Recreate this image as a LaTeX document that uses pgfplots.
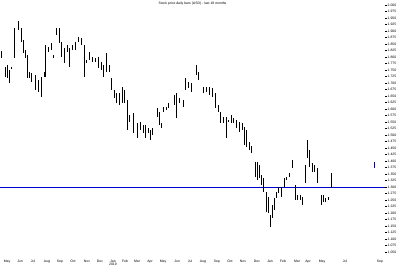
\documentclass[border=0pt]{standalone}
\usepackage{fontspec}
\setmainfont{Liberation Sans}
\usepackage{pgfplots}
\usepackage{pgfplotstable}
\pgfplotsset{compat=1.18}
\definecolor{lineblue}{RGB}{0,0,205}
\pgfplotstableread{
x lo hi
1 51 58
5 67 77
7 65 78
9 70 83
11 67 69
14 28 58
18 21 30
21 28 42
23 40 53
25.5 50 58
27 55 78
29 72 78
31.5 73 82
35 75 90
38 80 92
41 77 97
44 72 77
45.5 45 77
48 47 52
51.5 43 50
53 55 58
56 28 35
59 28 43
61.5 42 57
64 48 63
67 45 52
69 48 67
72.5 45 50
75 42 50
78 37 42
81 38 45
84 45 77
86 60 63
89 52 60
92 57 62
95 58 62
98 57 68
101 62 70
103 65 77
106.5 53 72
109 65 72
111 78 90
114 90 98
116 93 103
119 93 105
122 87 103
124.5 90 103
127 100 130
129 115 122
133 113 133
137 123 138
140 122 130
143 125 133
145 125 138
148 128 133
150 130 140
152 128 135
157 108 117
159 112 125
161 123 128
163 107 112
166 107 110
168 103 108
174 95 105
176 93 118
179 98 103
183 100 107
185 78 90
188 82 88
191 83 92
196 65 75
198 72 80
203 87 93
206 87 92
209 87 95
212 88 97
215 93 108
218 105 112
220 112 123
223 117 123
226 117 138
228 120 122
231 115 123
233 118 123
236 120 128
239 122 132
242 123 130
244 127 145
246 130 147
249 142 150
251 146 153
255 162 177
257 162 180
259 165 178
261 175 185
263 178 192
266 192 212
268 197 213
270 215 227
272 205 218
274 198 210
276 192 198
278 187 193
281 187 197
284 178 187
286 177 180
289 173 177
292 160 168
295 185 200
297 195 200
300 195 200
302 197 205
305 165 183
307 140 158
309 150 167
312 163 172
314 165 172
317 168 183
321 195 205
323 195 202
325 198 202
328 197 200
331 173 188
}\ohlc
\pgfplotstableread{
x lo hi
374 162 168
}\bluebar
\pgfplotstableread{
x y
0 187
385 187
}\hline
\begin{document}
\begin{tikzpicture}
\useasboundingbox (0,0) rectangle (400pt,266pt);
\begin{axis}[
  at={(0pt,8pt)}, anchor=south west,
  scale only axis, width=385pt, height=258pt,
  xmin=0, xmax=385, ymin=0, ymax=258, y dir=reverse,
  axis line style={draw=none},
  clip=false,
  font=\fontsize{3.4}{3.8}\selectfont,
  /pgf/number format/assume math mode=true,
  xtick={7,20,33,47,60,73,87,100,113,125,137,150,163,177,190,203,217,230,243,257,270,283,297,308,322,345,380},
  xticklabels={May,Jun,Jul,Aug,Sep,Oct,Nov,Dec,{Jan\\2019},Feb,Mar,Apr,May,Jun,Jul,Aug,Sep,Oct,Nov,Dec,Jan,Feb,Mar,Apr,May,Jul,Sep},
  xticklabel style={align=center, inner sep=0.5pt, yshift=0.5pt},
  xtick style={draw=none},
  ytick={5,11.5,...,262},
  yticklabel pos=right,
  yticklabel={\pgfmathparse{2-(\tick-5)/260}\pgfmathprintnumber[fixed,fixed zerofill,precision=3]{\pgfmathresult}},
  yticklabel style={inner sep=0.5pt, xshift=0.5pt},
  ytick style={black, line width=0.3pt},
  major tick length=1.5pt, tick align=outside,
]
\addplot[lineblue, line width=0.6pt, mark=none, forget plot] table[x=x, y=y] {\hline};
\addplot[draw=none, mark=none, forget plot,
  error bars/.cd, y dir=plus, y explicit,
  error bar style={black, line width=1pt}, error mark=none]
  table[x=x, y=lo, y error expr=\thisrow{hi}-\thisrow{lo}] {\ohlc};
\addplot[draw=none, mark=none, forget plot,
  error bars/.cd, y dir=plus, y explicit,
  error bar style={lineblue, line width=0.8pt}, error mark=none]
  table[x=x, y=lo, y error expr=\thisrow{hi}-\thisrow{lo}] {\bluebar};
\end{axis}
\node[font=\fontsize{3.4}{3.8}\selectfont, inner sep=0pt] at (192.5pt,262pt) {Stock price daily bars (USD) - last 18 months};
\end{tikzpicture}
\end{document}
